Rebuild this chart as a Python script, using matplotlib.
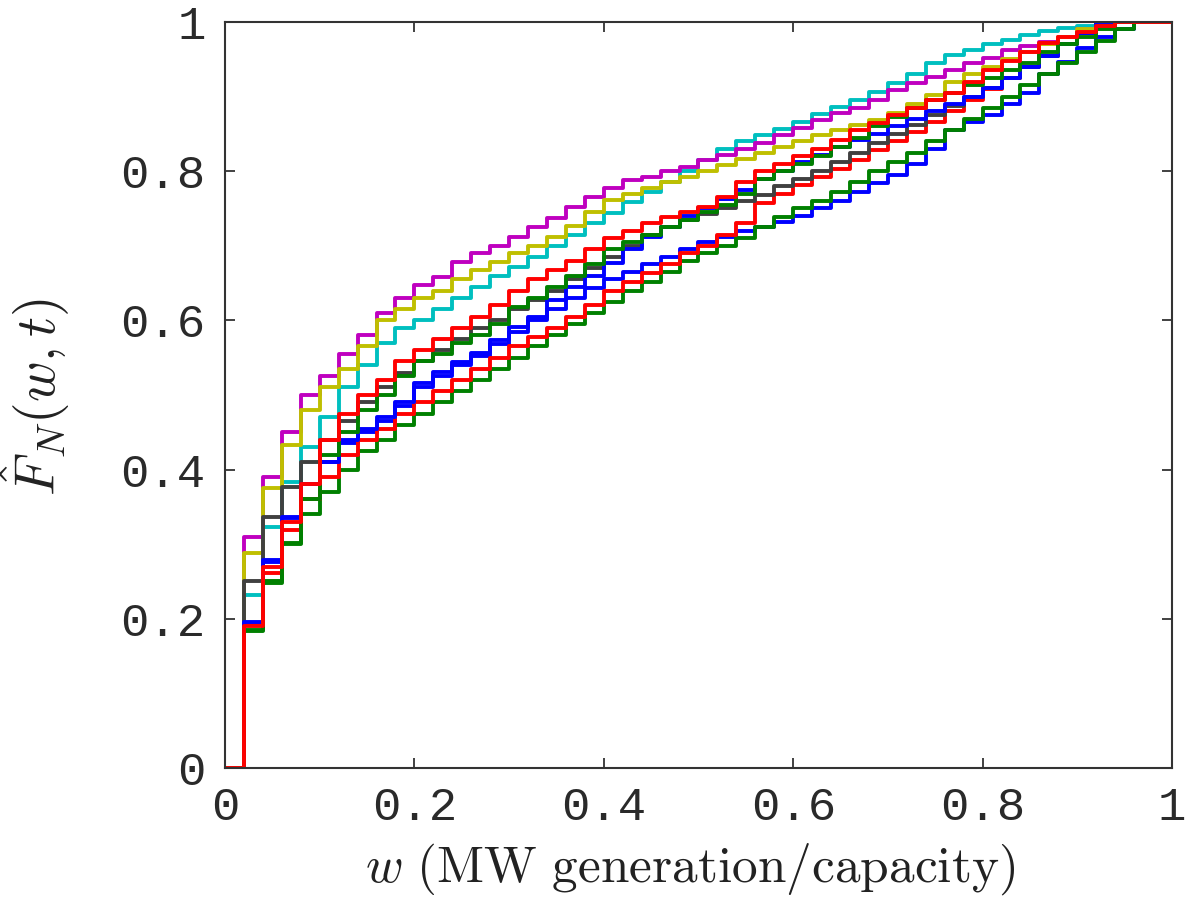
import numpy as np
import matplotlib
matplotlib.use('Agg')
import matplotlib.pyplot as plt

plt.rcParams['mathtext.fontset'] = 'cm'

# step edges of the empirical CDF (bin width 0.02)
w = np.round(np.arange(51) * 0.02, 2)

# values of F_N(w,t) on each step [w_i, w_i+0.02)
blue_a = [0, .194, .276, .335, .38, .41, .435, .45, .465, .485, .51, .525, .54, .552, .568, .585, .60,
          .615, .63, .643, .655, .665, .675, .685, .695, .705, .712, .72, .725, .732, .74, .75, .76, .772,
          .784, .795, .81, .83, .855, .866, .875, .89, .905, .93, .946, .965, .98, .99, 1, 1, 1]
green_a = [0, .183, .248, .302, .34, .37, .40, .425, .44, .46, .475, .49, .505, .52, .535, .55, .565,
           .58, .595, .61, .625, .64, .652, .665, .68, .69, .70, .71, .725, .739, .75, .76, .772, .786,
           .80, .812, .825, .84, .855, .87, .885, .90, .915, .93, .945, .96, .975, .99, 1, 1, 1]
red_a = [0, .192, .261, .319, .36, .39, .42, .44, .455, .475, .49, .505, .52, .535, .55, .565, .578,
         .59, .605, .62, .64, .652, .664, .676, .69, .70, .715, .73, .757, .77, .782, .792, .803, .815,
         .828, .84, .852, .866, .88, .895, .91, .925, .94, .955, .97, .985, 1, 1, 1, 1, 1]
cyan = [0, .232, .323, .383, .43, .47, .51, .54, .57, .59, .60, .615, .63, .645, .66, .672, .685,
        .70, .715, .73, .744, .758, .772, .785, .80, .815, .83, .84, .848, .856, .866, .876, .886, .896,
        .906, .918, .93, .945, .956, .962, .97, .976, .982, .988, .992, .995, 1, 1, 1, 1, 1]
magenta = [0, .31, .39, .45, .50, .525, .555, .58, .61, .63, .647, .658, .678, .69, .70, .712, .725,
           .737, .752, .765, .777, .788, .792, .80, .806, .815, .822, .83, .838, .848, .858, .868, .878,
           .884, .895, .909, .918, .926, .935, .945, .952, .962, .968, .973, .98, .99, .995, 1, 1, 1, 1]
yellow = [0, .288, .375, .433, .48, .51, .535, .565, .60, .615, .63, .64, .655, .668, .678, .69, .70,
          .712, .726, .745, .761, .77, .778, .785, .792, .80, .808, .816, .825, .832, .84, .848, .855,
          .862, .869, .878, .89, .902, .92, .93, .94, .95, .96, .97, .98, .99, 1, 1, 1, 1, 1]
gray = [0, .25, .337, .377, .41, .44, .465, .49, .51, .53, .545, .56, .575, .59, .60, .615, .627,
        .64, .655, .67, .685, .70, .715, .725, .735, .742, .75, .76, .768, .78, .79, .80, .812, .825,
        .838, .85, .862, .875, .888, .90, .912, .925, .94, .955, .97, .985, .995, 1, 1, 1, 1]
blue_b = [0, .196, .279, .337, .38, .41, .44, .455, .47, .49, .516, .531, .544, .556, .574, .591, .605,
          .627, .645, .66, .677, .695, .712, .725, .74, .75, .762, .775, .79, .80, .812, .822, .832,
          .842, .85, .86, .87, .88, .89, .90, .912, .925, .94, .955, .97, .985, 1, 1, 1, 1, 1]
green_b = [0, .185, .25, .30, .36, .42, .45, .48, .50, .525, .545, .555, .57, .58, .595, .618, .63,
           .645, .66, .675, .695, .705, .715, .725, .735, .745, .755, .77, .79, .80, .81, .82, .832,
           .845, .86, .872, .885, .895, .905, .915, .925, .935, .945, .96, .97, .98, .99, 1, 1, 1, 1]
red_b = [0, .19, .27, .33, .38, .44, .475, .50, .52, .545, .56, .575, .59, .605, .62, .64, .655,
         .668, .68, .695, .71, .72, .73, .738, .745, .752, .765, .785, .80, .81, .82, .83, .842, .855,
         .865, .875, .885, .895, .905, .92, .935, .948, .96, .972, .98, .987, .995, 1, 1, 1, 1]

series = [blue_a, green_a, red_a, cyan, magenta, yellow, gray, blue_b, green_b, red_b]
colors = ['#0000ff', '#008000', '#ff0000', '#00bfbf', '#bf00bf', '#bfbf00', '#404040',
          '#0000ff', '#008000', '#ff0000']

fig = plt.figure(figsize=(11.86, 9.07), dpi=100)
ax = fig.add_axes([0.1897, 0.1533, 0.7985, 0.8225])

for vals, col in zip(series, colors):
    ax.step(w, vals, where='post', color=col, linewidth=2.8)

ax.set_xlim(0, 1)
ax.set_ylim(0, 1)
ticks = [0, 0.2, 0.4, 0.6, 0.8, 1]
tick_labels = ['0', '0.2', '0.4', '0.6', '0.8', '1']
ax.set_xticks(ticks)
ax.set_xticklabels(tick_labels)
ax.set_yticks(ticks)
ax.set_yticklabels(tick_labels)
ax.tick_params(direction='in', top=True, right=True, length=7, width=1.3,
               color='#333333', labelcolor='#2a2a2a')
ax.tick_params(axis='x', pad=13)
ax.tick_params(axis='y', pad=14)
for lab in ax.get_xticklabels() + ax.get_yticklabels():
    lab.set_family('Liberation Mono')
    lab.set_fontsize(34)
for sp in ax.spines.values():
    sp.set_color('#333333')
    sp.set_linewidth(1.5)

ax.set_xlabel(r'$w\ \mathrm{(MW\ generation/capacity)}$', fontsize=37, color='#222222')
ax.xaxis.set_label_coords(0.491, -0.098)
ax.set_ylabel(r'$\hat{F}_N(w,t)$', fontsize=40, color='#222222')
ax.yaxis.set_label_coords(-0.162, 0.497)

fig.savefig('out.png', dpi=100)
